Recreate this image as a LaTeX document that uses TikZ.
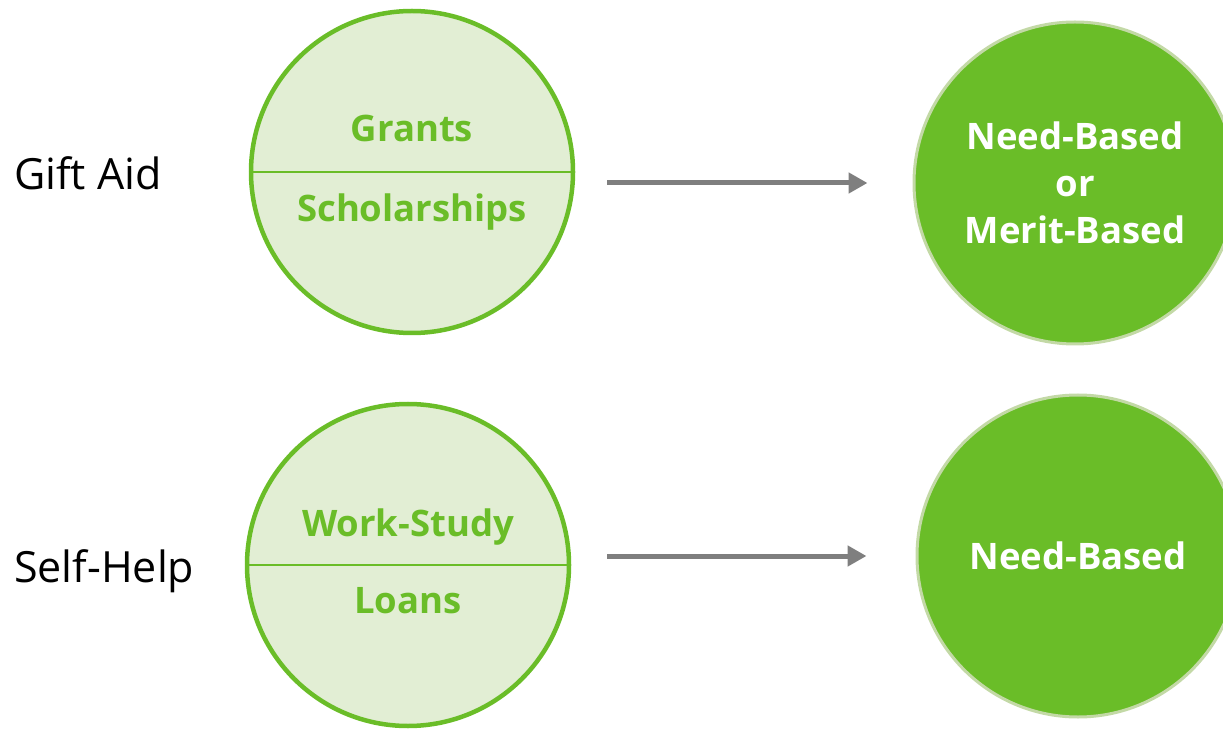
\documentclass[tikz,border=0pt]{standalone}
\usepackage{fontspec}
\setmainfont{Open Sans}
\usetikzlibrary{arrows.meta, positioning}

\definecolor{aidgreen}{HTML}{6ABD28}
\definecolor{aidlight}{HTML}{E2EED4}
\definecolor{aidrim}{HTML}{C3D9A6}
\definecolor{aidgray}{HTML}{7F7F7F}

\begin{document}
\begin{tikzpicture}[x=1pt, y=1pt,
		kind/.style={circle, draw=aidgreen, fill=aidlight, line width=4.5pt,
			minimum size=322pt, inner sep=0pt},
		basis/.style={circle, draw=aidrim, fill=aidgreen, line width=3pt,
			minimum size=322pt, inner sep=0pt, text=white, align=center,
			font=\fontsize{36.5}{47}\selectfont\bfseries},
		part/.style={text=aidgreen, anchor=base, inner sep=0pt,
			font=\fontsize{36.5}{42}\selectfont\bfseries},
		title/.style={anchor=base west, inner sep=0pt,
			font=\fontsize{43}{50}\selectfont},
		flow/.style={aidgray, line width=5pt, -{Triangle[length=19pt, width=20pt]}}]
	\useasboundingbox (0,0) rectangle (1223,729);

	\node [kind] (gift) at (412,557) {};
	\node [kind] (help) at (408,164) {};
	\node [basis] (needmerit) at (1075,546) {Need-Based\\or\\Merit-Based};
	\node [basis] (need) at (1078,173) {Need-Based};

	\draw [aidgreen, line width=1.5pt] (gift.west) -- (gift.east);
	\draw [aidgreen, line width=1.5pt] (help.west) -- (help.east);

	\node [part] (grants) at (412,587) {Grants};
	\node [part] (scholarships) at (412,507) {Scholarships};
	\node [part] (workstudy) at (408,193) {Work-Study};
	\node [part] (loans) at (408,116) {Loans};

	\node [title] (giftaid) at (14,539) {Gift Aid};
	\node [title] (selfhelp) at (14,147) {Self-Help};

	\draw [flow, shorten <=32pt, shorten >=45pt]
		(gift.east |- needmerit.west) -- (needmerit.west);
	\draw [flow, shorten <=36pt, shorten >=49pt]
		(help.east |- need.west) -- (need.west);
\end{tikzpicture}
\end{document}
